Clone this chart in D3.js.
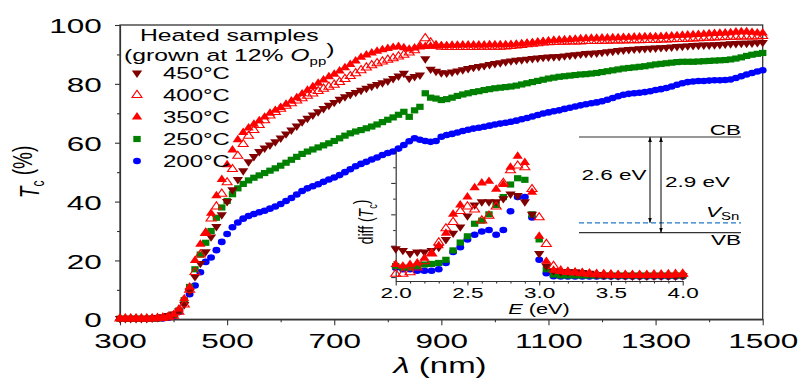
<!DOCTYPE html>
<html>
<head>
<meta charset="utf-8">
<script src="https://cdn.jsdelivr.net/npm/d3@7"></script>
<style>
  body { margin: 0; background: #fff; }
  text { font-family: "Liberation Sans", Arial, sans-serif; fill: #000; }
</style>
</head>
<body>
<div id="chart"></div>
<script>

// ---- data ----
var legendTitle = "Heated samples";
var temps = ["450°C", "400°C", "350°C", "250°C", "200°C"];

// main plot: transmittance (%) sampled every 10 nm from 300 to 1500 nm
var wavelength = d3.range(300, 1501, 10);
var t450 = [0.3,0.3,0.3,0.3,0.3,0.3,0.4,0.6,0.9,1.3,
  1.8,2.8,5,9.5,14.5,19,23,28,31.5,35.5,
  40,44,47.5,50.5,53.5,55.3,57,58.2,59.2,60.3,
  61.6,63,64.3,65.7,67.1,68.3,69.4,70.5,71.6,72.7,
  73.7,74.8,75.6,76.4,77.1,77.8,78.5,79.2,79.8,80.4,
  81,81.8,82.7,83.6,81.9,82.5,83,88.5,85,84.3,
  83.8,83.7,84,84.4,84.8,85.2,85.6,85.9,86.2,86.6,
  86.9,87.2,87.5,87.8,88,88.2,88.4,88.6,88.8,89,
  89.1,89.2,89.3,89.5,89.7,89.9,90.1,90.3,90.4,90.5,
  90.7,90.9,91.1,91.3,91.5,91.7,91.8,91.9,92,92.1,
  92.2,92.3,92.4,92.5,92.7,92.8,92.9,93,93.1,93.2,
  93.2,93.3,93.4,93.5,93.6,93.7,93.8,93.8,93.9,94,
  94.1];
var t400 = [0.2,0.2,0.2,0.2,0.2,0.2,0.2,0.3,0.4,0.7,
  1.2,2.5,5,10,16,22,29.3,34.2,38.3,42.6,
  46.5,51,55.5,59.5,62.3,64.3,66,67.6,69.2,70.4,
  71.5,72.5,73.4,74.3,75.1,75.9,76.7,77.5,78.3,79,
  79.7,80.6,81.6,82.6,83.6,84.6,85.5,86.3,87,87.6,
  88.2,88.7,89.3,89.9,90.6,91.4,92.8,95.5,94,93,
  92.6,92.5,92.5,92.5,92.5,92.5,92.5,92.6,92.6,92.6,
  92.6,92.6,92.7,92.8,93,93.2,93.4,93.6,93.8,94,
  94.1,94.2,94.3,94.3,94.4,94.4,94.4,94.5,94.5,94.5,
  94.6,94.6,94.7,94.7,94.7,94.8,94.8,94.8,94.9,94.9,
  94.9,95,95,95.1,95.2,95.2,95.3,95.4,95.5,95.6,
  95.6,95.7,95.8,95.9,96,96,96.1,96.1,96.1,96.1,
  96.2];
var t350 = [0.3,0.3,0.3,0.3,0.3,0.3,0.3,0.4,0.6,1.0,
  1.6,3.5,7,11,20,25.5,29.5,36,42,47.5,
  52.5,57.5,61,63.5,65,66.3,67.5,68.7,70,71,
  72,73.1,74.2,75.3,76.6,77.8,79,80.2,81.3,82.4,
  83.3,84.4,85.5,86.6,87.8,89,89.8,90.5,91.1,91.6,
  92,92.4,92.7,92.3,91.8,92.2,92.5,92.7,92.8,92.9,
  93,93,93.1,93.1,93.2,93.2,93.2,93.2,93.2,93.3,
  93.3,93.3,93.3,93.4,93.5,93.6,93.8,94,94.2,94.4,
  94.6,94.8,94.9,95,95.1,95.2,95.3,95.4,95.5,95.5,
  95.6,95.6,95.7,95.7,95.8,95.8,95.9,95.9,96,96,
  96,96.1,96.2,96.3,96.4,96.5,96.6,96.7,96.8,96.9,
  97,97.1,97.2,97.3,97.4,97.6,97.7,97.7,97.5,97.3,
  97.3];
var t250 = [0.2,0.2,0.2,0.2,0.2,0.2,0.2,0.3,0.5,0.8,
  1.5,3,6.5,11,17,22,26,30,34.5,38,
  40.2,42.5,44.5,46,47.2,48.1,48.9,49.7,50.5,51.3,
  52.2,53.2,54.2,55.2,56.2,57,57.7,58.4,59.1,59.8,
  60.6,61.5,62.4,63.2,63.8,64.3,64.9,65.5,66.2,67,
  67.8,68.6,69.5,70.5,68.8,71,72.2,76.8,75.3,75,
  74.5,74.8,75.3,75.9,76.4,76.8,77.2,77.5,77.9,78.2,
  78.5,78.7,78.9,79.1,79.4,79.8,80.2,80.6,81,81.4,
  81.8,82.1,82.4,82.6,82.8,83,83.2,83.3,83.5,83.7,
  84,84.3,84.6,84.9,85.2,85.4,85.6,85.8,86,86.3,
  86.6,86.8,87,87.2,87.4,87.5,87.5,87.5,87.6,87.7,
  87.8,87.9,88,88.1,88.3,88.6,89,89.5,89.9,90.2,
  90.5];
var t200 = [0.2,0.2,0.2,0.2,0.2,0.2,0.2,0.2,0.3,0.5,
  1.0,2.5,5.5,8.5,11.5,16,19.5,21,23.5,26.3,
  29,31.3,32.9,34.2,35.1,35.8,36.4,36.9,37.6,38.3,
  39.2,40.2,41.2,42.4,43.6,44.5,45.2,45.9,46.7,47.5,
  48.2,49,50,51,52,52.8,53.5,54.3,55,55.8,
  56.5,57,58,59.2,60.5,61.5,61,60.6,60.3,60.6,
  62,62.6,63,63.5,64,64.4,64.8,65.1,65.4,65.8,
  66.2,66.5,66.8,67.1,67.5,68,68.4,68.9,69.4,69.9,
  70.3,70.7,71,71.5,71.9,72.3,72.7,73.1,73.4,73.7,
  74.1,74.6,75.2,75.8,76.3,76.6,76.8,77,77.2,77.5,
  77.9,78.2,78.6,79.1,79.7,80.2,80.6,80.8,81,81,
  81.1,81.2,81.2,81.3,81.5,82,82.6,83.2,83.7,84.2,
  84.6];

// inset: diff(Tc) (arb. units) sampled every 0.05 eV from 2.0 to 4.0 eV
var energy = d3.range(41).map(function(i) { return 2 + i * 0.05; });
var d450 = [0.9,0.85,0.75,0.8,0.8,0.85,0.95,1.2,1.4,1.6,
  1.95,2.3,2.4,2.4,2.4,2.5,2.65,2.6,2.4,2.0,
  0.75,0.35,0.2,0.17,0.17,0.17,0.15,0.12,0.08,0.06,
  0.05,0.04,0.04,0.03,0.03,0.03,0.03,0.03,0.03,0.03,
  0.04];
var d400 = [0.1,0.1,0.15,0.3,0.5,0.75,1.1,1.55,1.75,2.1,
  2.25,2.15,1.8,1.95,2.25,3.0,3.4,3.55,3.5,2.8,
  1.9,1.05,0.35,0.2,0.16,0.14,0.12,0.1,0.09,0.08,
  0.07,0.06,0.06,0.06,0.06,0.06,0.07,0.07,0.08,0.09,
  0.1];
var d350 = [0.4,0.35,0.4,0.45,0.6,0.75,1.0,1.4,2.0,2.3,
  2.55,2.85,3.0,3.05,2.8,2.95,3.5,3.85,3.65,2.7,
  1.3,0.5,0.22,0.18,0.16,0.15,0.14,0.12,0.1,0.09,
  0.08,0.07,0.07,0.06,0.06,0.06,0.06,0.06,0.06,0.07,
  0.08];
var d250 = [0.35,0.3,0.3,0.35,0.4,0.42,0.45,0.55,0.85,1.1,
  1.3,1.7,1.8,2.0,2.3,2.55,2.95,3.15,3.1,2.0,
  1.2,0.25,0.08,0.05,0.05,0.05,0.05,0.05,0.05,0.05,
  0.05,0.05,0.05,0.05,0.05,0.05,0.05,0.05,0.05,0.05,
  0.05];
var d200 = [0.3,0.25,0.25,0.2,0.2,0.2,0.25,0.45,0.8,0.95,
  1.2,1.35,1.45,1.5,1.35,1.5,2.1,2.55,2.55,1.9,
  0.55,0.12,0.03,0.02,0.02,0.02,0.02,0.02,0.02,0.02,
  0.02,0.02,0.02,0.02,0.02,0.02,0.02,0.02,0.02,0.02,
  0.02];

// band diagram levels (eV above VB) and transitions
var levelNames = ["VB", "VSn", "CB"];
var levelE = [0, 0.3, 2.9];
var transLabels = ["2.6 eV", "2.9 eV"];
var transLow = [0.3, 0];
var transHigh = [2.9, 2.9];

var xTicks = [300, 500, 700, 900, 1100, 1300, 1500];
var yTicks = [0, 20, 40, 60, 80, 100];
var eTicks = [2.0, 2.5, 3.0, 3.5, 4.0];

// ---- drawing ----
var SX = 1.5;   // the original figure is stretched horizontally
var width = 808, height = 382;

var svg = d3.select("#chart")
  .append("svg")
    .attr("width", width)
    .attr("height", height);

// text that is stretched like the original
function stext(g, x, y, anchor, size) {
  return g.append("text")
    .attr("transform", "translate(" + x + "," + y + ") scale(" + SX + ",1)")
    .attr("text-anchor", anchor)
    .style("font-size", size + "px");
}

var style = {
  "450°C": {type: d3.symbolTriangle, rot: 180, fill: "#800000", stroke: "none"},
  "400°C": {type: d3.symbolTriangle, rot: 0, fill: "none", stroke: "#ff0000"},
  "350°C": {type: d3.symbolTriangle, rot: 0, fill: "#ff0000", stroke: "none"},
  "250°C": {type: d3.symbolSquare, rot: 0, fill: "#008000", stroke: "none"},
  "200°C": {type: d3.symbolCircle, rot: 0, fill: "#0000ff", stroke: "none"}
};
var symSize = {"450°C": 32, "400°C": 30, "350°C": 32, "250°C": 38, "200°C": 34};

function drawMarkers(g, xs, ys, name, xScale, yScale) {
  var st = style[name];
  var path = d3.symbol().type(st.type).size(symSize[name])();
  g.append("g").selectAll("path")
    .data(xs.map(function(d, i) { return [d, ys[i]]; }))
    .enter().append("path")
      .attr("d", path)
      .attr("transform", function(d) {
        return "translate(" + xScale(d[0]) + "," + yScale(d[1]) + ") scale(1.2,1) rotate(" + st.rot + ")";
      })
      .attr("fill", st.fill)
      .attr("stroke", st.stroke)
      .attr("stroke-width", 1);
}

// main scales
var x = d3.scaleLinear().domain([300, 1500]).range([120, 762.7]);
var y = d3.scaleLinear().domain([0, 100]).range([319.3, 25]);

// minor ticks
svg.append("g")
  .attr("transform", "translate(0,319.3)")
  .call(d3.axisBottom(x).tickValues(d3.range(400, 1500, 200)).tickSize(3).tickFormat(""))
  .call(function(g) { g.select(".domain").remove(); });
svg.append("g")
  .attr("transform", "translate(120,0)")
  .call(d3.axisLeft(y).tickValues(d3.range(10, 100, 20)).tickSize(3).tickFormat(""))
  .call(function(g) { g.select(".domain").remove(); });

// major axes
var xAxis = svg.append("g")
  .attr("transform", "translate(0,319.3)")
  .call(d3.axisBottom(x).tickValues(xTicks).tickSize(6).tickPadding(7.5).tickSizeOuter(0).tickFormat(d3.format("d")));
var yAxis = svg.append("g")
  .attr("transform", "translate(120,0)")
  .call(d3.axisLeft(y).tickValues(yTicks).tickSize(5).tickPadding(7.2).tickSizeOuter(0));

[xAxis, yAxis].forEach(function(a) {
  a.selectAll("text").attr("transform", "scale(" + SX + ",1)").style("font-size", "21px").attr("fill", "#000");
});
yAxis.selectAll("text").attr("dy", "0.36em");

// frame
svg.append("rect")
  .attr("x", 120).attr("y", 25)
  .attr("width", 762.7 - 120).attr("height", 319.3 - 25)
  .attr("fill", "none").attr("stroke", "#333").attr("stroke-width", 1.3);

// axis titles
var xt = stext(svg, 440, 373, "middle", 22);
xt.append("tspan").style("font-style", "italic").text("λ");
xt.append("tspan").text(" (nm)");

var yt = svg.append("text")
  .attr("transform", "translate(39,172) scale(" + SX + ",1) rotate(-90)")
  .attr("text-anchor", "middle")
  .style("font-size", "19px");
yt.append("tspan").style("font-style", "italic").text("T");
yt.append("tspan").attr("dy", "0.3em").style("font-size", "12px").text("c");
yt.append("tspan").attr("dy", "-0.45em").text(" (%)");

// main series
var mainData = {"450°C": t450, "400°C": t400, "350°C": t350, "250°C": t250, "200°C": t200};
["200°C", "250°C", "450°C", "350°C", "400°C"].forEach(function(name) {
  drawMarkers(svg, wavelength, mainData[name], name, x, y);
});

// legend
stext(svg, 140, 41, "start", 16.5).text(legendTitle);
var l2 = stext(svg, 124, 61, "start", 16.5);
l2.append("tspan").text("(grown at 12% ");
l2.append("tspan").style("font-style", "italic").text("O");
l2.append("tspan").attr("dy", "0.35em").style("font-size", "10px").text("pp");
l2.append("tspan").attr("dy", "-0.55em").text(")");

var ly = d3.scaleBand().domain(temps).range([62, 172]);
temps.forEach(function(name) {
  var cy = ly(name) + ly.bandwidth() / 2;
  drawMarkers(svg, [0], [0], name, function() { return 137; }, function() { return cy; });
  stext(svg, 163, cy + 6, "start", 16).text(name);
});

// ---- inset ----
var xi = d3.scaleLinear().domain([2, 4]).range([395.7, 682.7]);
var yi = d3.scaleLinear().domain([-0.125, 4.05]).range([281, 150]);

svg.append("g")
  .attr("transform", "translate(0,281)")
  .call(d3.axisBottom(xi).tickValues(d3.range(2.1, 4, 0.1)).tickSize(2.5).tickFormat(""))
  .call(function(g) { g.select(".domain").remove(); });
svg.append("g")
  .attr("transform", "translate(395.7,0)")
  .call(d3.axisLeft(yi).tickValues([0.5, 1.5, 2.5, 3.5]).tickSize(2.5).tickFormat(""))
  .call(function(g) { g.select(".domain").remove(); });

var xiAxis = svg.append("g")
  .attr("transform", "translate(0,281)")
  .call(d3.axisBottom(xi).tickValues(eTicks).tickSize(4.5).tickPadding(2).tickSizeOuter(0).tickFormat(d3.format(".1f")));
svg.append("g")
  .attr("transform", "translate(395.7,0)")
  .call(d3.axisLeft(yi).tickValues([0, 1, 2, 3]).tickSize(4.5).tickSizeOuter(0).tickFormat(""));
xiAxis.selectAll("text").attr("transform", "scale(" + SX + ",1)").style("font-size", "15px").attr("fill", "#000");
svg.selectAll(".domain").attr("stroke", "#333").attr("stroke-width", 1.2);
svg.selectAll(".tick line").attr("stroke", "#333").attr("stroke-width", 1.1);

var et = stext(svg, 539, 313.5, "middle", 14.5);
et.append("tspan").style("font-style", "italic").text("E");
et.append("tspan").text(" (eV)");

var dt = svg.append("text")
  .attr("transform", "translate(373,222) scale(" + SX + ",1) rotate(-90)")
  .attr("text-anchor", "middle")
  .style("font-size", "14px");
dt.append("tspan").text("diff (");
dt.append("tspan").style("font-style", "italic").text("T");
dt.append("tspan").attr("dy", "0.3em").style("font-size", "9px").text("c");
dt.append("tspan").attr("dy", "-0.45em").text(")");

var insetData = {"450°C": d450, "400°C": d400, "350°C": d350, "250°C": d250, "200°C": d200};
["200°C", "250°C", "450°C", "350°C", "400°C"].forEach(function(name) {
  drawMarkers(svg, energy, insetData[name], name, xi, yi);
});

// ---- band diagram ----
var eb = d3.scaleLinear().domain([0, 2.9]).range([232.7, 137]);

svg.append("defs").append("marker")
    .attr("id", "arr")
    .attr("viewBox", "0 0 8 8")
    .attr("refX", 8).attr("refY", 4)
    .attr("markerWidth", 5).attr("markerHeight", 5)
    .attr("orient", "auto-start-reverse")
  .append("path")
    .attr("d", "M0,1 L8,4 L0,7 Z")
    .attr("fill", "#000");

levelNames.forEach(function(name, i) {
  var isDefect = name === "VSn";
  svg.append("line")
    .attr("x1", 579).attr("x2", 741)
    .attr("y1", eb(levelE[i])).attr("y2", eb(levelE[i]))
    .attr("stroke", isDefect ? "#1f78c8" : "#333")
    .attr("stroke-width", 1.2)
    .attr("stroke-dasharray", isDefect ? "5,3" : null);
});
stext(svg, 741, eb(2.9) - 2, "end", 15).text("CB");
stext(svg, 741, eb(0) + 12, "end", 15).text("VB");
var vs = stext(svg, 706, eb(0.3) - 6, "start", 15);
vs.append("tspan").style("font-style", "italic").text("V");
vs.append("tspan").attr("dy", "0.35em").style("font-size", "10px").text("Sn");

var arrowX = [650, 661];
transLabels.forEach(function(lab, i) {
  svg.append("line")
    .attr("x1", arrowX[i]).attr("x2", arrowX[i])
    .attr("y1", eb(transLow[i])).attr("y2", eb(transHigh[i]))
    .attr("stroke", "#000").attr("stroke-width", 1)
    .attr("marker-start", "url(#arr)")
    .attr("marker-end", "url(#arr)");
});
stext(svg, 646.5, 179.5, "end", 15).text(transLabels[0]);
stext(svg, 665, 186.5, "start", 15).text(transLabels[1]);

</script>
</body>
</html>
